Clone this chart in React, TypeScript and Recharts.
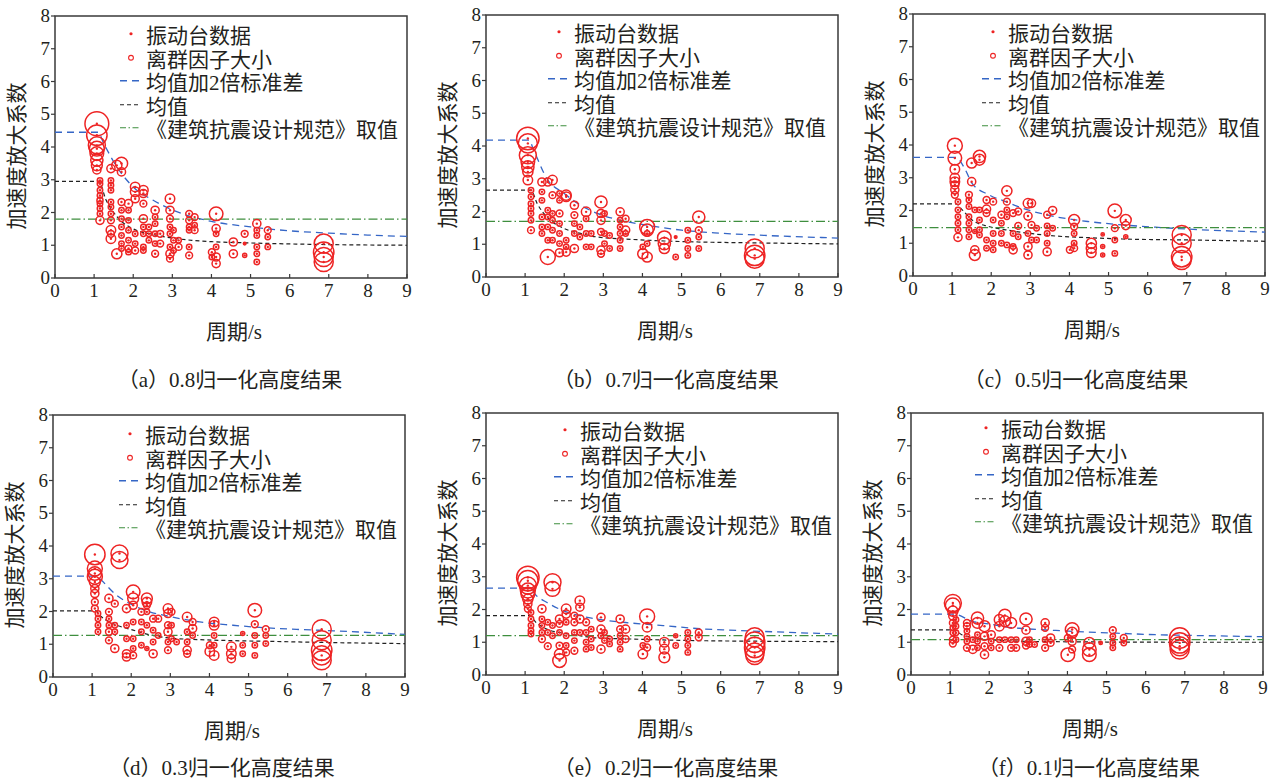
import React from 'react';
import { ComposedChart, Scatter, Line, XAxis, YAxis, ReferenceArea } from 'recharts';

type Pt = [number, number, number]; // [period, amplification, outlier factor]
type XY = [number, number];

const xTicks = [0, 1, 2, 3, 4, 5, 6, 7, 8, 9];
const yTicks = [0, 1, 2, 3, 4, 5, 6, 7, 8];
const xTitle = '周期/s';
const yTitle = '加速度放大系数';
const legendLabels = ['振动台数据', '离群因子大小', '均值加2倍标准差', '均值', '《建筑抗震设计规范》取值'];
const captions = [
  '（a）0.8归一化高度结果',
  '（b）0.7归一化高度结果',
  '（c）0.5归一化高度结果',
  '（d）0.3归一化高度结果',
  '（e）0.2归一化高度结果',
  '（f）0.1归一化高度结果',
];

const pointsA: Pt[] = [
  [1.07,4.71,3.5],[1.07,4.36,3.0],[1.07,4.05,2.5],[1.07,3.95,2.2],[1.07,3.8,2.0],[1.07,3.6,1.8],[1.07,3.44,1.6],[1.07,3.3,1.2],
  [1.15,2.98,0.8],[1.15,2.88,0.8],[1.15,2.68,0.8],[1.15,2.52,0.8],[1.15,2.37,0.9],[1.15,2.27,0.8],[1.15,2.12,0.8],[1.15,1.96,0.8],[1.15,1.76,1.2],
  [1.43,3.34,1.2],[1.43,2.98,0.8],[1.43,2.83,0.8],[1.43,2.68,0.8],[1.43,2.32,0.8],[1.43,2.17,0.8],[1.43,1.96,0.8],[1.43,1.76,1.0],[1.43,1.46,1.4],[1.43,1.35,1.0],[1.43,1.2,1.4],
  [1.58,3.44,1.5],[1.58,0.74,1.5],
  [1.7,3.5,1.8],[1.7,3.24,1.2],[1.7,2.32,1.0],[1.7,2.07,0.8],[1.7,1.81,0.8],[1.7,1.56,0.8],[1.7,1.3,0.8],[1.7,1.05,0.8],[1.7,0.9,0.8],
  [1.88,2.27,1.2],[1.88,2.07,0.8],[1.88,1.76,0.8],[1.88,1.46,0.8],[1.88,1.15,0.8],[1.88,0.9,1.0],[1.88,0.79,0.8],
  [2.05,2.78,1.4],[2.05,2.63,1.4],[2.05,2.42,1.2],[2.05,1.35,0.8],[2.05,1.05,0.8],[2.05,0.84,1.0],
  [2.26,2.68,1.4],[2.26,2.58,1.2],[2.26,2.27,1.0],[2.26,1.81,1.2],[2.26,1.56,0.8],[2.26,1.35,0.8],[2.26,0.95,0.8],[2.26,0.84,0.8],
  [2.4,1.56,0.8],[2.4,1.35,0.8],[2.4,1.15,0.8],
  [2.56,2.07,1.2],[2.56,1.86,0.8],[2.56,1.66,0.8],[2.56,1.35,0.8],[2.56,1.05,0.8],[2.56,0.74,1.0],
  [2.69,1.35,1.0],[2.69,1.05,1.0],
  [2.94,2.42,1.4],[2.94,2.07,1.2],[2.94,1.81,1.0],[2.94,1.56,0.8],[2.94,1.35,0.8],[2.94,0.95,0.8],[2.94,0.74,1.2],[2.94,0.59,1.0],
  [3.03,1.46,0.8],[3.03,1.15,0.8],[3.03,0.84,0.8],
  [3.16,1.15,0.8],[3.16,0.95,1.0],
  [3.43,1.96,1.0],[3.43,1.76,1.0],[3.43,1.56,0.8],[3.43,1.46,0.8],[3.43,0.95,0.8],[3.43,0.69,1.0],
  [3.57,1.86,1.0],[3.57,1.61,0.8],[3.57,1.46,1.0],
  [4.01,0.79,1.0],[4.01,0.64,0.8],
  [4.12,1.96,2.0],[4.12,1.51,1.2],[4.12,1.35,0.8],[4.12,0.95,0.8],[4.12,0.64,1.2],[4.12,0.44,1.2],
  [4.56,1.1,1.2],[4.56,0.74,1.2],
  [4.85,1.35,1.0],[4.85,1.05,0.4],[4.85,0.69,0.6],
  [5.16,1.66,1.2],[5.16,1.46,0.8],[5.16,1.3,0.8],[5.16,0.95,0.8],[5.16,0.74,0.8],[5.16,0.49,0.8],
  [5.44,1.46,1.0],[5.44,1.25,0.8],[5.44,0.95,0.8],
  [6.87,1.05,2.8],[6.87,0.79,3.0],[6.87,0.64,2.8],[6.87,0.49,2.8],
];

const pointsB: Pt[] = [
  [1.07,4.23,3.3],[1.07,4.08,2.8],[1.07,3.72,2.5],[1.07,3.52,2.0],[1.07,3.36,1.8],[1.07,3.21,1.5],[1.07,2.96,1.4],
  [1.15,2.65,0.8],[1.15,2.45,0.8],[1.15,2.24,0.8],[1.15,2.09,0.8],[1.15,1.94,0.8],[1.15,1.73,0.8],[1.15,1.43,1.0],
  [1.43,2.9,1.2],[1.43,2.6,0.8],[1.43,2.34,0.8],[1.43,1.83,0.8],[1.43,1.53,0.8],[1.43,1.33,0.8],
  [1.58,2.9,1.2],[1.58,2.04,0.8],[1.58,1.83,0.8],[1.58,1.53,0.8],[1.58,1.12,0.8],[1.58,0.61,2.2],
  [1.7,2.96,1.4],[1.7,2.5,1.0],[1.7,1.94,0.8],[1.7,1.73,0.8],[1.7,1.43,0.8],[1.7,1.12,0.8],
  [1.88,2.55,0.8],[1.88,2.34,0.8],[1.88,1.94,1.0],[1.88,1.63,0.8],[1.88,1.33,0.8],[1.88,1.02,0.8],[1.88,0.74,1.2],
  [2.05,2.5,1.5],[2.05,2.45,1.4],[2.05,1.12,0.8],[2.05,0.92,0.8],[2.05,0.76,1.2],
  [2.26,2.19,1.2],[2.26,1.89,1.0],[2.26,1.63,0.8],[2.26,1.33,0.8],[2.26,0.87,1.2],
  [2.4,1.53,0.8],[2.4,1.22,0.8],
  [2.56,1.99,1.4],[2.56,1.78,0.8],[2.56,1.33,0.8],[2.56,0.92,0.8],
  [2.69,1.33,0.8],[2.69,0.92,0.8],
  [2.94,2.29,1.8],[2.94,1.94,1.2],[2.94,1.73,1.2],[2.94,1.38,1.0],[2.94,0.82,1.2],[2.94,0.71,1.0],
  [3.03,1.94,0.8],[3.03,1.33,0.8],[3.03,1.02,0.8],
  [3.16,1.27,0.8],[3.16,0.87,0.8],
  [3.43,1.99,1.2],[3.43,1.73,0.8],[3.43,1.53,0.8],[3.43,1.33,0.8],[3.43,1.12,0.8],[3.43,0.87,0.8],
  [3.57,1.78,1.0],[3.57,1.43,1.2],[3.57,1.33,0.8],
  [4.01,0.92,0.8],[4.01,0.71,1.5],
  [4.12,1.53,2.2],[4.12,1.43,1.8],[4.12,1.33,0.8],[4.12,1.02,0.8],[4.12,0.61,1.5],
  [4.56,1.2,2.0],[4.56,1.02,1.8],[4.56,0.87,1.5],
  [4.85,1.22,0.4],[4.85,0.61,0.8],
  [5.16,1.43,0.8],[5.16,1.12,0.8],[5.16,0.87,0.8],[5.16,0.66,0.8],
  [5.44,1.83,1.8],[5.44,1.43,1.0],[5.44,1.22,0.8],[5.44,0.87,0.8],
  [6.87,0.87,2.8],[6.87,0.66,3.0],[6.87,0.56,2.8],
];

const pointsC: Pt[] = [
  [1.07,3.98,2.2],[1.07,3.6,2.0],[1.07,3.26,1.4],[1.07,2.99,1.4],[1.07,2.88,1.4],[1.07,2.78,1.2],[1.07,2.63,1.2],[1.07,2.48,1.0],
  [1.15,2.27,0.8],[1.15,2.02,0.8],[1.15,1.81,0.8],[1.15,1.61,0.8],[1.15,1.41,0.8],[1.15,1.18,1.2],
  [1.43,2.48,1.0],[1.43,2.32,0.8],[1.43,2.12,0.8],[1.43,1.81,0.8],[1.43,1.61,0.8],[1.43,1.41,0.8],[1.43,1.2,0.8],
  [1.5,3.45,1.5],[1.5,2.88,1.2],
  [1.58,2.02,0.8],[1.58,1.36,0.6],[1.58,0.8,1.2],[1.58,0.64,1.6],
  [1.7,3.65,1.8],[1.7,3.55,1.6],[1.7,2.02,0.8],[1.7,1.71,0.8],[1.7,1.41,0.8],[1.7,1.25,0.8],
  [1.88,2.32,1.0],[1.88,2.04,1.2],[1.88,1.92,1.0],[1.88,1.1,0.8],[1.88,0.85,0.8],
  [2.05,2.27,1.0],[2.05,1.71,0.8],[2.05,1.3,0.8],[2.05,1.0,0.8],[2.05,0.8,0.8],
  [2.26,1.87,1.0],[2.26,1.61,0.8],[2.26,1.3,0.8],[2.26,1.0,0.8],
  [2.4,2.6,1.5],[2.4,2.27,1.0],[2.4,2.02,0.8],[2.4,1.81,0.8],[2.4,0.95,0.8],
  [2.56,1.92,1.0],[2.56,1.3,0.8],[2.56,0.9,0.8],[2.56,0.8,1.2],
  [2.69,1.97,1.0],[2.69,1.53,1.0],[2.69,1.2,0.8],
  [2.94,2.22,1.4],[2.94,1.83,1.2],[2.94,1.3,0.8],[2.94,0.9,1.2],[2.94,0.64,1.2],
  [3.03,2.22,1.2],[3.03,1.56,1.0],[3.03,1.1,0.8],
  [3.16,1.46,0.8],[3.16,1.1,0.8],
  [3.43,1.87,1.0],[3.43,1.53,0.8],[3.43,1.3,0.8],[3.43,1.0,0.8],[3.43,0.74,1.2],
  [3.57,2.0,1.2],[3.57,1.46,0.8],
  [4.01,0.8,1.0],
  [4.12,1.71,1.6],[4.12,1.51,1.0],[4.12,1.3,0.8],[4.12,1.0,0.8],[4.12,0.85,1.0],
  [4.56,1.0,1.5],[4.56,0.85,1.5],[4.56,0.71,1.4],
  [4.85,1.27,0.5],[4.85,0.9,0.6],[4.85,0.64,0.6],
  [5.16,1.99,2.0],[5.16,1.46,1.0],[5.16,1.1,0.8],[5.16,0.69,0.8],
  [5.44,1.71,1.6],[5.44,1.54,1.2],[5.44,1.2,0.6],
  [6.87,1.25,2.8],[6.87,1.0,2.8],[6.87,0.59,3.0],[6.87,0.49,2.8],
];

const pointsD: Pt[] = [
  [1.07,3.74,3.0],[1.07,3.31,2.2],[1.07,3.16,2.0],[1.07,3.06,2.2],[1.07,2.9,1.6],[1.07,2.7,1.2],[1.07,2.55,1.2],[1.07,2.29,1.0],[1.07,2.09,1.0],
  [1.15,1.94,0.8],[1.15,1.78,0.8],[1.15,1.58,0.8],[1.15,1.38,0.8],
  [1.43,2.4,1.2],[1.43,1.99,1.0],[1.43,1.78,0.8],[1.43,1.58,0.8],[1.43,1.38,1.0],[1.43,1.12,1.0],
  [1.58,2.24,1.0],[1.58,1.58,0.8],[1.58,1.38,0.8],[1.58,0.87,1.2],
  [1.7,3.77,2.5],[1.7,3.57,2.5],
  [1.88,2.09,1.2],[1.88,1.58,0.8],[1.88,1.17,0.8],[1.88,0.71,1.2],[1.88,0.61,1.2],
  [2.05,2.6,2.0],[2.05,2.4,1.6],[2.05,2.19,1.2],[2.05,1.68,0.8],[2.05,1.17,0.8],[2.05,0.87,0.8],[2.05,0.66,1.0],
  [2.26,1.99,1.0],[2.26,1.68,0.8],[2.26,1.38,0.8],[2.26,0.97,0.8],
  [2.4,2.4,1.6],[2.4,2.29,1.4],[2.4,2.19,1.0],[2.4,1.99,0.8],[2.4,1.58,0.8],[2.4,0.87,0.6],
  [2.56,1.78,1.0],[2.56,1.43,0.8],[2.56,1.07,0.8],[2.56,0.71,1.2],
  [2.69,1.78,1.0],[2.69,1.27,0.8],
  [2.94,2.09,1.4],[2.94,1.94,1.2],[2.94,1.58,1.0],[2.94,1.38,1.2],[2.94,1.07,0.8],[2.94,0.82,1.0],
  [3.03,1.99,1.0],[3.03,1.58,0.8],[3.03,1.17,0.8],
  [3.16,1.07,0.8],
  [3.43,1.83,1.4],[3.43,1.38,0.8],[3.43,1.07,0.8],[3.43,0.82,1.2],[3.43,0.71,1.0],
  [3.57,1.68,1.0],[3.57,1.48,1.2],[3.57,1.27,0.8],
  [4.01,0.97,1.0],[4.01,0.78,1.4],
  [4.12,1.68,1.4],[4.12,1.58,1.4],[4.12,1.27,0.8],[4.12,0.97,0.8],[4.12,0.66,1.4],
  [4.56,0.92,1.4],[4.56,0.71,1.4],[4.56,0.56,1.2],
  [4.85,1.33,0.6],[4.85,0.97,0.8],[4.85,0.71,0.8],
  [5.16,2.04,2.0],[5.16,1.61,1.0],[5.16,1.27,0.8],[5.16,0.97,0.8],[5.16,0.66,0.8],
  [5.44,1.46,1.0],[5.44,1.27,0.8],[5.44,1.02,0.8],
  [6.87,1.46,2.8],[6.87,1.12,2.8],[6.87,0.82,3.0],[6.87,0.66,2.8],[6.87,0.51,2.8],
];

const pointsE: Pt[] = [
  [1.07,2.98,3.3],[1.07,2.88,3.0],[1.07,2.73,2.5],[1.07,2.58,2.2],[1.07,2.47,2.0],[1.07,2.32,1.5],[1.07,2.17,1.2],[1.07,2.02,1.0],
  [1.15,1.91,0.8],[1.15,1.71,0.8],[1.15,1.51,0.8],[1.15,1.35,0.8],[1.15,1.25,0.8],
  [1.43,2.02,1.2],[1.43,1.71,0.8],[1.43,1.51,0.8],[1.43,1.3,0.8],[1.43,1.1,1.0],
  [1.58,1.61,0.8],[1.58,1.3,0.8],[1.58,0.88,1.0],
  [1.7,2.83,2.5],[1.7,2.63,2.2],[1.7,1.51,0.8],[1.7,1.2,0.8],
  [1.88,1.71,1.2],[1.88,1.56,1.0],[1.88,1.3,0.8],[1.88,0.9,1.0],[1.88,0.64,1.5],[1.88,0.44,2.0],
  [2.05,2.02,1.4],[2.05,1.86,1.2],[2.05,1.61,0.8],[2.05,1.2,0.8],[2.05,0.9,0.8],[2.05,0.69,1.0],
  [2.26,1.81,1.0],[2.26,1.61,1.0],[2.26,1.3,0.8],[2.26,1.05,0.8],[2.26,0.74,1.0],
  [2.4,2.27,1.4],[2.4,2.07,1.2],[2.4,1.71,1.2],[2.4,1.3,0.8],
  [2.56,1.61,1.0],[2.56,1.3,0.8],[2.56,1.0,0.8],[2.56,0.79,0.8],
  [2.69,1.4,0.8],[2.69,1.1,0.8],[2.69,0.84,0.8],
  [2.94,1.76,1.2],[2.94,1.4,1.2],[2.94,1.2,0.8],[2.94,0.79,1.2],
  [3.03,1.3,0.8],[3.03,1.05,0.8],
  [3.16,1.1,0.8],[3.16,0.95,0.8],
  [3.43,1.71,1.2],[3.43,1.4,1.0],[3.43,1.2,0.8],[3.43,1.0,0.8],[3.43,0.79,0.8],
  [3.57,1.4,1.2],[3.57,1.1,1.0],
  [4.01,0.9,0.8],[4.01,0.64,1.4],
  [4.12,1.79,2.2],[4.12,1.46,1.4],[4.12,1.1,0.8],[4.12,0.84,1.0],
  [4.56,1.0,1.4],[4.56,0.79,1.4],[4.56,0.54,1.6],
  [4.85,1.2,0.6],[4.85,0.9,0.8],
  [5.16,1.3,0.8],[5.16,1.1,0.8],[5.16,0.9,0.8],[5.16,0.69,0.8],
  [5.44,1.3,1.0],[5.44,1.15,1.0],
  [6.87,1.15,2.8],[6.87,1.0,3.0],[6.87,0.84,3.0],[6.87,0.69,2.8],[6.87,0.59,2.6],
];

const pointsF: Pt[] = [
  [1.07,2.2,2.5],[1.07,2.12,2.2],[1.07,1.95,1.5],[1.07,1.8,1.2],[1.07,1.59,1.0],[1.07,1.44,0.8],[1.07,1.29,0.8],[1.07,1.08,1.0],[1.07,0.96,1.0],
  [1.15,1.69,0.8],[1.15,1.49,0.8],[1.15,1.29,0.8],[1.15,1.08,0.8],
  [1.43,1.59,1.0],[1.43,1.49,1.0],[1.43,1.34,0.8],[1.43,1.18,0.8],[1.43,1.03,0.8],[1.43,0.83,1.0],
  [1.58,1.08,0.8],[1.58,0.78,1.2],
  [1.7,1.74,1.8],[1.7,1.59,1.6],[1.7,1.23,0.8],[1.7,1.03,0.8],[1.7,0.83,0.8],
  [1.88,1.49,1.6],[1.88,1.18,1.2],[1.88,0.88,1.0],[1.88,0.62,1.2],
  [2.05,1.23,1.2],[2.05,1.03,0.8],[2.05,0.83,0.8],
  [2.26,1.69,1.5],[2.26,1.49,1.4],[2.26,1.08,0.8],[2.26,0.83,1.0],
  [2.4,1.82,1.8],[2.4,1.64,1.6],[2.4,1.08,0.8],
  [2.56,1.59,1.6],[2.56,1.08,0.8],[2.56,0.83,1.0],
  [2.69,1.08,0.8],[2.69,0.83,1.0],
  [2.94,1.71,1.8],[2.94,1.37,1.2],[2.94,1.03,1.2],[2.94,0.9,1.0],
  [3.03,1.08,0.8],[3.03,0.93,0.8],
  [3.16,0.93,0.8],
  [3.43,1.59,1.2],[3.43,1.44,1.0],[3.43,1.08,0.8],[3.43,0.83,1.0],
  [3.57,1.13,1.2],[3.57,0.98,1.0],
  [4.01,1.13,1.0],[4.01,0.62,2.0],
  [4.12,1.39,2.0],[4.12,1.29,1.6],[4.12,1.03,1.2],[4.12,0.78,1.0],
  [4.56,0.98,1.6],[4.56,0.78,2.0],[4.56,0.62,2.0],
  [4.85,0.98,0.5],
  [5.16,1.37,1.0],[5.16,1.18,0.8],[5.16,0.98,0.8],[5.16,0.83,0.8],
  [5.44,1.13,1.0],[5.44,0.98,0.8],
  [6.87,1.13,3.0],[6.87,0.98,3.0],[6.87,0.88,2.8],[6.87,0.78,2.8],
];

const meanPlus2SdA: XY[] = [[0,4.45],[1.1,4.45],[1.25,4.1],[1.5,3.55],[2,2.78],[2.5,2.38],[3,2.08],[3.5,1.87],[4,1.73],[5,1.56],[6,1.44],[7,1.37],[8,1.31],[9,1.27]];
const meanA: XY[] = [[0,2.95],[1.12,2.95],[1.3,2.4],[1.6,1.85],[2,1.5],[2.5,1.33],[3,1.22],[3.5,1.15],[4,1.11],[5,1.07],[6,1.04],[7,1.02],[9,1.0]];
const meanPlus2SdB: XY[] = [[0,4.18],[1.1,4.18],[1.22,3.87],[1.56,3.0],[2,2.55],[2.42,2.19],[2.85,1.94],[3.44,1.73],[4.13,1.58],[5,1.43],[5.84,1.35],[7.12,1.27],[9,1.19]];
const meanB: XY[] = [[0,2.65],[1.15,2.65],[1.31,2.24],[1.56,1.83],[2,1.48],[2.42,1.33],[2.85,1.22],[3.7,1.15],[4.56,1.1],[5.41,1.07],[7,1.04],[9,1.01]];
const meanPlus2SdC: XY[] = [[0,3.62],[1.1,3.62],[1.34,3.24],[1.51,2.83],[1.94,2.48],[2.37,2.27],[2.8,2.07],[3.65,1.81],[4.5,1.66],[5.36,1.56],[6.2,1.49],[7.07,1.43],[9,1.34]];
const meanC: XY[] = [[0,2.2],[1.1,2.2],[1.26,2.02],[1.51,1.71],[1.94,1.51],[2.37,1.41],[2.8,1.33],[3.65,1.22],[4.5,1.17],[5.36,1.13],[7.07,1.1],[9,1.06]];
const meanPlus2SdD: XY[] = [[0,3.08],[1.1,3.08],[1.19,3.0],[1.62,2.5],[2.05,2.19],[2.47,1.99],[2.9,1.87],[3.75,1.68],[4.6,1.58],[5.46,1.5],[6.31,1.45],[7.17,1.41],[9,1.3]];
const meanD: XY[] = [[0,2.02],[1.1,2.02],[1.19,1.89],[1.45,1.68],[2.05,1.43],[2.47,1.29],[2.9,1.2],[3.75,1.14],[4.6,1.11],[5.46,1.09],[7.17,1.05],[9,1.02]];
const meanPlus2SdE: XY[] = [[0,2.65],[1.1,2.65],[1.29,2.42],[1.55,2.22],[1.98,1.96],[2.4,1.81],[2.83,1.71],[3.68,1.59],[4.53,1.51],[5.38,1.42],[6.23,1.37],[7.09,1.33],[9,1.25]];
const meanE: XY[] = [[0,1.81],[1.1,1.81],[1.29,1.59],[1.55,1.4],[1.98,1.28],[2.4,1.2],[2.83,1.13],[3.68,1.1],[4.53,1.07],[5.38,1.05],[7.09,1.03],[9,1.02]];
const meanPlus2SdF: XY[] = [[0,1.86],[1.1,1.86],[1.56,1.64],[1.99,1.56],[2.41,1.47],[2.84,1.42],[3.7,1.36],[4.55,1.31],[5.4,1.27],[6.25,1.23],[7.1,1.21],[9,1.17]];
const meanF: XY[] = [[0,1.38],[1.1,1.38],[1.3,1.23],[1.56,1.15],[1.99,1.08],[2.84,1.03],[4.55,1.01],[7.1,1.0],[9,1.0]];

const codeValues = [1.8, 1.7, 1.48, 1.27, 1.2, 1.08];

const allPoints = [pointsA, pointsB, pointsC, pointsD, pointsE, pointsF];
const allUpper = [meanPlus2SdA, meanPlus2SdB, meanPlus2SdC, meanPlus2SdD, meanPlus2SdE, meanPlus2SdF];
const allMean = [meanA, meanB, meanC, meanD, meanE, meanF];

// ---- layout / style (not data) ----
const PW = 352;
const PH = 262;
const ML = 60;
const MT = 20;
const layouts = [
  { left: 55, top: 16, lgX: 91, lgY: 18, capX: -1, capY: 380 },
  { left: 486, top: 15, lgX: 88, lgY: 17, capX: 4, capY: 380 },
  { left: 913, top: 14, lgX: 95, lgY: 18, capX: -13, capY: 380 },
  { left: 53, top: 415, lgX: 92, lgY: 19, capX: -7, capY: 768 },
  { left: 486, top: 413, lgX: 94, lgY: 17, capX: 4, capY: 768 },
  { left: 911, top: 413, lgX: 90, lgY: 15, capX: 2, capY: 768 },
];

const RED = '#ee2424';
const BLUE = '#3566c6';
const BLACK = '#222222';
const GREEN = '#3e8e3e';
const AXIS = '#3a3a3a';
const TEXT = '#231f20';
const SERIF = "'Liberation Serif', 'Times New Roman', 'DejaVu Serif', serif";
const FONT = "'Liberation Serif', 'Times New Roman', 'Noto Sans CJK SC', serif";
const R_SCALE = 3.4;

const toObj = (p: Pt) => ({ x: p[0], y: p[1], lof: p[2] });
const toXY = (p: XY) => ({ x: p[0], y: p[1] });

const Bubble = (props: any) => {
  const { cx, cy, payload } = props;
  if (cx == null || cy == null) return null;
  return (
    <g>
      <circle cx={cx} cy={cy} r={payload.lof * R_SCALE} fill="none" stroke={RED} strokeWidth={1.5} />
      <circle cx={cx} cy={cy} r={1.2} fill={RED} />
    </g>
  );
};

const XTick = (props: any) => {
  const { x, y, payload } = props;
  return (
    <g>
      <line x1={x} x2={x} y1={y} y2={y - 4} stroke={AXIS} strokeWidth={1.2} />
      <text x={x} y={y + 19} textAnchor="middle" style={{ fontFamily: SERIF, fontSize: 19 }} fill={TEXT}>
        {payload.value}
      </text>
    </g>
  );
};

const YTick = (props: any) => {
  const { x, y, payload } = props;
  return (
    <g>
      <line x1={x} x2={x - 4} y1={y} y2={y} stroke={AXIS} strokeWidth={1.2} />
      <text x={x - 5} y={y + 6} textAnchor="end" style={{ fontFamily: SERIF, fontSize: 19 }} fill={TEXT}>
        {payload.value}
      </text>
    </g>
  );
};

const LegendBox = ({ left, top }: { left: number; top: number }) => {
  const rowH = 23.5;
  const symbols = [
    <circle cx={11} cy={rowH / 2} r={1.6} fill={RED} />,
    <circle cx={11} cy={rowH / 2} r={2.4} fill="none" stroke={RED} strokeWidth={1.1} />,
    <line x1={0} x2={20} y1={rowH / 2} y2={rowH / 2} stroke={BLUE} strokeWidth={1.3} strokeDasharray="7 5" />,
    <line x1={0} x2={20} y1={rowH / 2} y2={rowH / 2} stroke={BLACK} strokeWidth={1.2} strokeDasharray="4 3" />,
    <line x1={0} x2={20} y1={rowH / 2} y2={rowH / 2} stroke={GREEN} strokeWidth={1.2} strokeDasharray="6 2.5 1.5 2.5" />,
  ];
  return (
    <div style={{ position: 'absolute', left: left - 26, top: top - rowH / 2 + 3 }}>
      {legendLabels.map((lab, i) => (
        <div key={lab} style={{ display: 'flex', alignItems: 'center', height: rowH }}>
          <svg width={26} height={rowH} style={{ display: 'block', position: 'relative', top: -3 }}>
            {symbols[i]}
          </svg>
          <span style={{ fontFamily: FONT, fontSize: 21, color: TEXT, lineHeight: `${rowH}px`, whiteSpace: 'nowrap' }}>
            {lab}
          </span>
        </div>
      ))}
    </div>
  );
};

const Panel = ({ idx }: { idx: number }) => {
  const lay = layouts[idx];
  const pts = allPoints[idx].map(toObj);
  const upper = allUpper[idx].map(toXY);
  const mean = allMean[idx].map(toXY);
  const code = [{ x: 0, y: codeValues[idx] }, { x: 9, y: codeValues[idx] }];
  const W = ML + PW + 10;
  const H = MT + PH + 30;
  return (
    <>
      <div style={{ position: 'absolute', left: lay.left - ML, top: lay.top - MT }}>
        <ComposedChart width={W} height={H} margin={{ top: MT, right: 10, bottom: 0, left: 0 }}>
          <XAxis
            type="number"
            dataKey="x"
            domain={[0, 9]}
            ticks={xTicks}
            interval={0}
            allowDataOverflow
            height={30}
            axisLine={false}
            tickLine={false}
            tickSize={0}
            tickMargin={0}
            tick={<XTick />}
          />
          <YAxis
            type="number"
            dataKey="y"
            domain={[0, 8]}
            ticks={yTicks}
            interval={0}
            allowDataOverflow
            width={ML}
            axisLine={false}
            tickLine={false}
            tickSize={0}
            tickMargin={0}
            tick={<YTick />}
          />
          <Scatter data={pts} dataKey="y" shape={<Bubble />} isAnimationActive={false} />
          <Line data={upper} dataKey="y" type="monotone" stroke={BLUE} strokeWidth={1.3} strokeDasharray="7 5" dot={false} activeDot={false} isAnimationActive={false} />
          <Line data={mean} dataKey="y" type="monotone" stroke={BLACK} strokeWidth={1.2} strokeDasharray="4 3" dot={false} activeDot={false} isAnimationActive={false} />
          <Line data={code} dataKey="y" type="linear" stroke={GREEN} strokeWidth={1.2} strokeDasharray="9 3 1.5 3" dot={false} activeDot={false} isAnimationActive={false} />
          <ReferenceArea x1={0} x2={9} y1={0} y2={8} fill="none" fillOpacity={0} stroke={AXIS} strokeWidth={1.5} />
        </ComposedChart>
      </div>
      <LegendBox left={lay.left + lay.lgX} top={lay.top + lay.lgY} />
      <div
        style={{
          position: 'absolute',
          left: lay.left + PW / 2 + 3,
          top: lay.top + PH + 54,
          transform: 'translate(-50%, -50%)',
          fontFamily: FONT,
          fontSize: 21,
          lineHeight: '24px',
          color: TEXT,
          whiteSpace: 'nowrap',
        }}
      >
        {xTitle}
      </div>
      <div
        style={{
          position: 'absolute',
          left: lay.left - 38,
          top: lay.top + PH / 2 + 9,
          transform: 'translate(-50%, -50%) rotate(-90deg)',
          fontFamily: FONT,
          fontSize: 21,
          lineHeight: '24px',
          color: TEXT,
          whiteSpace: 'nowrap',
        }}
      >
        {yTitle}
      </div>
      <div
        style={{
          position: 'absolute',
          left: lay.left + PW / 2 + lay.capX,
          top: lay.capY,
          transform: 'translate(-50%, -50%)',
          fontFamily: FONT,
          fontSize: 21,
          lineHeight: '23px',
          color: TEXT,
          whiteSpace: 'nowrap',
        }}
      >
        {captions[idx]}
      </div>
    </>
  );
};

export default function App() {
  return (
    <div
      style={{
        position: 'absolute',
        left: 0,
        top: 0,
        width: 1279,
        height: 782,
        overflow: 'hidden',
        background: '#ffffff',
      }}
    >
      {[0, 1, 2, 3, 4, 5].map((i) => (
        <Panel key={i} idx={i} />
      ))}
    </div>
  );
}
